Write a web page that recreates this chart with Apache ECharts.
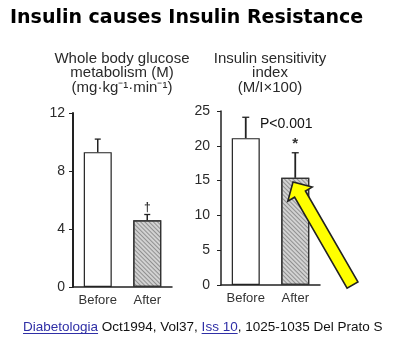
<!DOCTYPE html>
<html><head><meta charset="utf-8">
<script src="https://cdn.jsdelivr.net/npm/echarts@6/dist/echarts.min.js"></script>
<style>html,body{margin:0;padding:0;background:#fff}#c{width:400px;height:357px}</style>
</head><body><div id="c"></div>
<script>
// ---- data ----
const categories = ['Before', 'After'];
const glucoseMeans = [9.3, 4.6];
const glucoseErr = [0.9, 0.4];
const glucoseMarks = ['', '†'];
const sensMeans = [21.1, 15.4];
const sensErr = [3.0, 3.6];
const sensMarks = ['', '*'];
const glucoseTicks = [0, 12, 4];   // min, max, interval
const sensTicks = [0, 25, 5];
const titleText = 'Insulin causes Insulin Resistance';
const leftPanelTitle = 'Whole body glucose\nmetabolism (M)\n(mg·kg⁻¹·min⁻¹)';
const rightPanelTitle = 'Insulin sensitivity\nindex\n(M/I×100)';
const pText = 'P<0.001';
const footerParts = [
  {t: 'Diabetologia', link: true},
  {t: ' Oct1994, Vol37, ', link: false},
  {t: 'Iss 10', link: true},
  {t: ', 1025-1035 Del Prato S', link: false}
];

const FONT = '"Liberation Sans", Arial, sans-serif';
const chart = echarts.init(document.getElementById('c'), null, {renderer: 'canvas'});

function barItems(means) {
  return means.map((v, i) => i === 0
    ? {value: v, itemStyle: {color: '#ffffff', borderColor: '#222', borderWidth: 1.2}}
    : {value: v, itemStyle: {color: '#d2d2d2', borderColor: '#333', borderWidth: 1.2,
        decal: {symbol: 'rect', symbolSize: 1, color: 'rgba(80,80,80,0.5)',
                dashArrayX: [[1, 0]], dashArrayY: [1, 2], rotation: Math.PI / 4}}});
}
function errData(means, errs, marks) {
  return means.map((v, i) => [i, v, v + errs[i], marks[i]]);
}
function errRender(capW, lw, markSize) {
  return function (params, api) {
    const lo = api.coord([api.value(0), api.value(1)]);
    const hi = api.coord([api.value(0), api.value(2)]);
    const mark = api.value(3);
    const ch = [
      {type: 'line', shape: {x1: lo[0], y1: lo[1], x2: hi[0], y2: hi[1]}, style: {stroke: '#222', lineWidth: lw}},
      {type: 'line', shape: {x1: hi[0] - capW / 2, y1: hi[1], x2: hi[0] + capW / 2, y2: hi[1]}, style: {stroke: '#222', lineWidth: 1.3}}
    ];
    if (mark) ch.push({type: 'text', x: hi[0], y: hi[1] - 1,
      style: {text: mark, fill: '#333', font: 'bold ' + markSize + 'px ' + FONT, textAlign: 'center', textVerticalAlign: 'bottom'}});
    return {type: 'group', children: ch};
  };
}
function yAx(idx, t, margin, w) {
  return {type: 'value', gridIndex: idx, min: t[0], max: t[1], interval: t[2],
    axisLine: {show: true, lineStyle: {color: '#222', width: w}},
    axisTick: {show: true, length: 4, lineStyle: {color: '#222', width: 1}},
    axisLabel: {fontSize: 14, color: '#2a2a2a', margin: margin, fontFamily: FONT},
    splitLine: {show: false}};
}
function xAx(idx) {
  return {type: 'category', gridIndex: idx, data: categories,
    axisLine: {show: true, lineStyle: {color: '#222', width: 1.5}},
    axisTick: {show: false},
    axisLabel: {interval: 0, hideOverlap: false, fontSize: 13, color: '#333', margin: 7, fontFamily: FONT}};
}

// footer pieces measured with canvas
const mctx = document.createElement('canvas').getContext('2d');
const footFont = '13.5px ' + FONT;
mctx.font = footFont;
const footerEls = [];
let fx = 23;
const fy = 327;
footerParts.forEach(p => {
  const w = mctx.measureText(p.t).width;
  footerEls.push({type: 'text', x: fx, y: fy,
    style: {text: p.t, font: footFont, fill: p.link ? '#2f2fa6' : '#111', textVerticalAlign: 'middle'}});
  if (p.link) footerEls.push({type: 'line', shape: {x1: fx, y1: fy + 6.5, x2: fx + w, y2: fy + 6.5},
    style: {stroke: '#2f2fa6', lineWidth: 1}});
  fx += w;
});

// arrow annotation geometry
const M = [352.5, 285], d = [-0.5, -0.866], n = [0.866, -0.5];
const P = (t, s) => [M[0] + t * d[0] + s * n[0], M[1] + t * d[1] + s * n[1]];
const arrowPts = [P(0, 6.25), P(105, 6.25), P(105, 14), P(119, 0), P(105, -14), P(105, -6.25), P(0, -6.25)];

chart.setOption({
  animation: false,
  backgroundColor: '#ffffff',
  grid: [
    {left: 73, top: 113, width: 99, height: 174},
    {left: 221, top: 111, width: 99, height: 174}
  ],
  xAxis: [xAx(0), xAx(1)],
  yAxis: [yAx(0, glucoseTicks, 8, 2), yAx(1, sensTicks, 11, 1.5)],
  series: [
    {type: 'bar', xAxisIndex: 0, yAxisIndex: 0, barWidth: 28, data: barItems(glucoseMeans), z: 2},
    {type: 'bar', xAxisIndex: 1, yAxisIndex: 1, barWidth: 28, data: barItems(sensMeans), z: 2},
    {type: 'custom', xAxisIndex: 0, yAxisIndex: 0, renderItem: errRender(6, 1.5, 12), data: errData(glucoseMeans, glucoseErr, glucoseMarks), z: 3},
    {type: 'custom', xAxisIndex: 1, yAxisIndex: 1, renderItem: errRender(7, 1.8, 15), data: errData(sensMeans, sensErr, sensMarks), z: 3}
  ],
  graphic: [
    {type: 'text', x: 10, y: 18, style: {text: titleText, font: 'bold 19px "DejaVu Sans", sans-serif', fill: '#000', textVerticalAlign: 'middle'}},
    {type: 'text', x: 122, y: 73, style: {text: leftPanelTitle, font: '15px ' + FONT, fill: '#2a2a2a', textAlign: 'center', textVerticalAlign: 'middle', lineHeight: 14.5}},
    {type: 'text', x: 270, y: 73, style: {text: rightPanelTitle, font: '15px ' + FONT, fill: '#2a2a2a', textAlign: 'center', textVerticalAlign: 'middle', lineHeight: 14.5}},
    {type: 'text', x: 260, y: 124, style: {text: pText, font: '14px ' + FONT, fill: '#111', textVerticalAlign: 'middle'}},
    {type: 'polygon', z: 10, shape: {points: arrowPts}, style: {fill: '#ffff00', stroke: '#222', lineWidth: 1.6}}
  ].concat(footerEls)
});
</script></body></html>
